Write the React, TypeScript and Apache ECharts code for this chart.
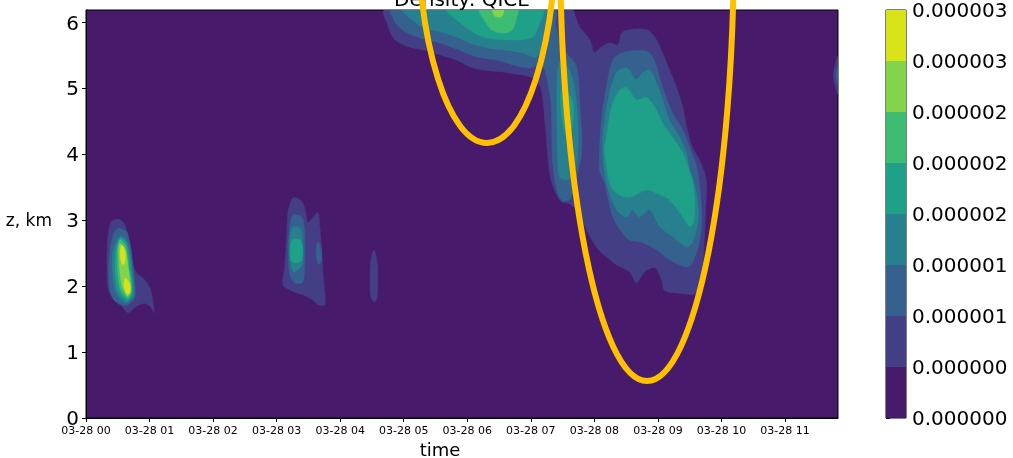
import { useEffect, useRef } from "react";
import * as echarts from "echarts";

// Axis ticks: hours since 03-28 00:00 and height in km
const hourTicks = [0, 1, 2, 3, 4, 5, 6, 7, 8, 9, 10, 11];
const heightTicks = [0, 1, 2, 3, 4, 5, 6];
const timeMaxHours = 71 / 6; // 03-28 11:50
const heightMaxKm = 6.19;

// Contour levels of QICE density and the viridis colour of each band
const levels = [0, 4e-7, 8e-7, 1.2e-6, 1.6e-6, 2.0e-6, 2.4e-6, 2.8e-6, 3.2e-6];
const bandColors = ["#481a6c", "#433e85", "#34618d", "#27808e", "#1fa088", "#3fbc73", "#84d44b", "#d8e219"];

// Contour rings as [hours, km]; ring of level k encloses density >= levels[k]
// Cell near 00:30
const cellA1 = [[0.41, 2.99], [0.52, 3.01], [0.60, 2.95], [0.66, 2.75], [0.71, 2.45], [0.78, 2.22], [0.90, 2.12], [0.99, 2.00], [1.04, 1.85], [1.07, 1.60], [1.02, 1.68], [0.93, 1.74], [0.80, 1.70], [0.66, 1.60], [0.55, 1.72], [0.44, 1.80], [0.35, 1.95], [0.33, 2.30], [0.34, 2.70], [0.37, 2.90]];
const cellA2 = [[0.50, 2.88], [0.60, 2.85], [0.65, 2.81], [0.71, 2.55], [0.74, 2.29], [0.77, 2.02], [0.77, 1.84], [0.68, 1.73], [0.57, 1.71], [0.44, 1.79], [0.38, 1.94], [0.36, 2.25], [0.38, 2.55], [0.43, 2.78]];
const cellA3 = [[0.54, 2.76], [0.65, 2.68], [0.72, 2.29], [0.75, 1.87], [0.62, 1.75], [0.46, 1.93], [0.42, 2.50]];
const cellA4 = [[0.54, 2.73], [0.64, 2.64], [0.70, 2.29], [0.73, 1.90], [0.65, 1.78], [0.49, 1.97], [0.46, 2.47]];
const cellA5 = [[0.53, 2.70], [0.62, 2.62], [0.67, 2.29], [0.72, 1.92], [0.65, 1.82], [0.53, 1.99], [0.49, 2.44]];
const cellA6 = [[0.53, 2.64], [0.61, 2.58], [0.66, 2.29], [0.70, 1.95], [0.65, 1.85], [0.56, 2.04], [0.52, 2.44]];
const cellA7a = [[0.56, 2.62], [0.61, 2.54], [0.61, 2.35], [0.57, 2.33], [0.54, 2.48]];
const cellA7b = [[0.62, 2.12], [0.69, 2.03], [0.69, 1.90], [0.65, 1.88], [0.60, 2.00]];

// Cell near 03:10
const cellB1 = [[3.26, 3.34], [3.37, 3.31], [3.44, 3.19], [3.49, 2.97], [3.57, 3.04], [3.65, 3.11], [3.68, 2.88], [3.71, 2.52], [3.73, 2.17], [3.76, 1.72], [3.65, 1.72], [3.57, 1.79], [3.41, 1.87], [3.21, 1.94], [3.10, 2.02], [3.13, 2.32], [3.16, 2.78], [3.18, 3.13]];
const cellB2 = [[3.26, 3.08], [3.40, 3.04], [3.44, 2.78], [3.44, 2.37], [3.41, 2.06], [3.29, 2.05], [3.21, 2.17], [3.18, 2.52], [3.21, 2.93]];
const cellB2b = [[3.65, 2.67], [3.70, 2.55], [3.70, 2.37], [3.65, 2.34], [3.62, 2.52]];
const cellB3 = [[3.24, 2.88], [3.37, 2.88], [3.41, 2.63], [3.40, 2.32], [3.26, 2.22], [3.21, 2.52]];
const cellB4 = [[3.24, 2.70], [3.37, 2.70], [3.41, 2.52], [3.37, 2.37], [3.24, 2.37], [3.21, 2.52]];

// Cell near 04:30
const cellC1 = [[4.53, 2.55], [4.58, 2.37], [4.59, 2.09], [4.58, 1.84], [4.54, 1.76], [4.48, 1.85], [4.47, 2.09], [4.48, 2.37]];

// Edge of a cell at the end of the period
const cellD1 = [[11.84, 5.50], [11.76, 5.20], [11.84, 4.90]];
const cellD2 = [[11.84, 5.35], [11.80, 5.20], [11.84, 5.05]];

// Upper cloud 05:00-07:30 joined to the deep cell 07:15-09:45
const cellE1 = [[4.70, 6.19], [4.75, 5.96], [4.86, 5.74], [5.09, 5.63], [5.33, 5.58], [5.57, 5.51], [5.83, 5.43], [6.04, 5.33], [6.24, 5.28], [6.56, 5.25], [6.82, 5.21], [7.03, 5.16], [7.14, 5.05], [7.19, 4.83], [7.22, 4.52], [7.26, 4.07], [7.30, 3.69], [7.37, 3.46], [7.48, 3.28], [7.61, 3.25], [7.74, 3.13], [7.88, 2.85], [8.04, 2.58], [8.21, 2.43], [8.35, 2.32], [8.55, 2.22], [8.66, 2.05], [8.79, 2.22], [8.95, 2.28], [9.06, 2.09], [9.10, 1.94], [9.26, 1.90], [9.65, 1.90], [9.70, 2.25], [9.73, 2.70], [9.75, 3.16], [9.76, 3.61], [9.65, 3.92], [9.54, 4.11], [9.45, 4.42], [9.39, 4.72], [9.29, 5.02], [9.18, 5.28], [9.07, 5.54], [8.95, 5.78], [8.82, 5.89], [8.55, 5.89], [8.43, 5.84], [8.37, 5.66], [8.24, 5.69], [8.11, 5.63], [8.00, 5.55], [7.93, 5.74], [7.77, 5.93], [7.69, 6.12], [7.66, 6.19]];
const cellE2top = [[4.81, 6.19], [4.86, 6.01], [5.02, 5.86], [5.25, 5.77], [5.57, 5.69], [5.88, 5.58], [6.15, 5.48], [6.46, 5.43], [6.71, 5.36], [6.98, 5.31], [7.14, 5.36], [7.22, 5.28], [7.31, 4.83], [7.33, 4.37], [7.34, 3.92], [7.39, 3.54], [7.48, 3.31], [7.61, 3.31], [7.69, 3.57], [7.80, 4.02], [7.77, 4.78], [7.72, 5.33], [7.56, 5.54], [7.45, 5.74], [7.39, 5.96], [7.37, 6.19]];
const cellE2 = [[8.08, 3.76], [8.11, 4.52], [8.19, 5.02], [8.29, 5.43], [8.44, 5.54], [8.71, 5.58], [8.87, 5.54], [8.98, 5.33], [9.07, 5.02], [9.23, 4.63], [9.39, 4.37], [9.50, 4.11], [9.61, 3.81], [9.65, 3.57], [9.69, 3.05], [9.65, 2.66], [9.54, 2.35], [9.45, 2.29], [9.18, 2.40], [8.98, 2.55], [8.76, 2.66], [8.55, 2.70], [8.44, 2.81], [8.29, 3.05], [8.16, 3.57]];
const cellE3top = [[4.98, 6.19], [5.09, 6.07], [5.30, 5.93], [5.57, 5.86], [5.83, 5.78], [6.04, 5.69], [6.35, 5.61], [6.62, 5.58], [6.87, 5.54], [7.09, 5.48], [7.22, 5.74], [7.26, 5.96], [7.26, 6.19]];
const cellE3col = [[7.45, 5.39], [7.61, 5.28], [7.72, 4.78], [7.74, 4.02], [7.66, 3.66], [7.56, 3.61], [7.45, 3.66], [7.42, 4.02], [7.41, 5.02]];
const cellE3 = [[8.13, 4.07], [8.16, 4.52], [8.24, 4.93], [8.35, 5.24], [8.51, 5.31], [8.66, 5.13], [8.76, 5.24], [8.87, 5.28], [8.98, 5.08], [9.07, 4.83], [9.18, 4.52], [9.34, 4.26], [9.45, 4.02], [9.50, 3.76], [9.58, 3.54], [9.64, 3.05], [9.54, 2.66], [9.45, 2.60], [9.23, 2.75], [9.03, 2.90], [8.87, 3.16], [8.71, 3.05], [8.60, 3.16], [8.51, 3.05], [8.35, 3.16], [8.19, 3.57]];
const cellE4top = [[5.68, 6.19], [5.83, 6.04], [6.04, 5.89], [6.24, 5.78], [6.56, 5.74], [6.82, 5.74], [7.03, 5.78], [7.14, 5.99], [7.19, 6.19]];
const cellE4col = [[7.50, 5.02], [7.66, 4.78], [7.64, 4.37], [7.55, 4.30], [7.47, 4.75]];
const cellE4 = [[8.16, 4.07], [8.19, 4.26], [8.27, 4.72], [8.40, 4.98], [8.51, 5.01], [8.66, 4.83], [8.82, 4.86], [8.95, 4.72], [9.07, 4.48], [9.23, 4.26], [9.39, 4.02], [9.46, 3.84], [9.54, 3.61], [9.58, 3.31], [9.56, 2.97], [9.50, 2.90], [9.39, 3.05], [9.18, 3.31], [8.98, 3.41], [8.82, 3.46], [8.55, 3.35], [8.35, 3.41], [8.24, 3.57]];
const cellE5top = [[6.19, 6.19], [6.27, 6.04], [6.38, 5.89], [6.56, 5.84], [6.71, 5.89], [6.78, 6.09], [6.79, 6.19]];
const cellE6top = [[6.40, 6.19], [6.43, 6.10], [6.54, 6.09], [6.57, 6.19]];

const contourLayers = [
  { level: 1, rings: [cellA1, cellB1, cellC1, cellD1, cellE1] },
  { level: 2, rings: [cellA2, cellB2, cellB2b, cellD2, cellE2top, cellE2] },
  { level: 3, rings: [cellA3, cellB3, cellE3top, cellE3col, cellE3] },
  { level: 4, rings: [cellA4, cellB4, cellE4top, cellE4col, cellE4] },
  { level: 5, rings: [cellA5, cellE5top] },
  { level: 6, rings: [cellA6, cellE6top] },
  { level: 7, rings: [cellA7a, cellA7b] },
];

const FONT = "DejaVu Sans";

export default function App() {
  const ref = useRef<HTMLDivElement>(null);

  useEffect(() => {
    if (!ref.current) return;
    const chart = echarts.init(ref.current, null, { renderer: "svg" });

    const rings = contourLayers.flatMap((layer) =>
      layer.rings.map((ring) => ({ level: layer.level, ring }))
    );
    const bands = levels.slice(0, -1).map((lo, i) => [0, lo, levels[i + 1], i]);

    const pad2 = (v: number) => String(Math.round(v)).padStart(2, "0");

    chart.setOption({
      animation: false,
      grid: [
        { left: 86, top: 10, width: 752, height: 408, show: true, backgroundColor: bandColors[0], borderColor: "#000", borderWidth: 1 },
        { left: 886, top: 10, width: 20, height: 408, show: true, backgroundColor: "transparent", borderColor: "#000", borderWidth: 1 },
      ],
      xAxis: [
        {
          type: "value",
          gridIndex: 0,
          min: 0,
          max: timeMaxHours,
          axisLine: { show: true, lineStyle: { color: "#000", width: 1 } },
          axisTick: { show: true, length: 4, customValues: hourTicks, lineStyle: { color: "#000", width: 1 } },
          axisLabel: {
            customValues: hourTicks,
            formatter: (v: number) => "03-28 " + pad2(v),
            fontFamily: FONT,
            fontSize: 11,
            color: "#000",
            margin: 7,
          },
          splitLine: { show: false },
        },
        { type: "value", gridIndex: 1, min: 0, max: 1, show: false },
      ],
      yAxis: [
        {
          type: "value",
          gridIndex: 0,
          min: 0,
          max: heightMaxKm,
          axisLine: { show: true, lineStyle: { color: "#000", width: 1 } },
          axisTick: { show: true, length: 4, customValues: heightTicks, lineStyle: { color: "#000", width: 1 } },
          axisLabel: {
            customValues: heightTicks,
            formatter: (v: number) => String(Math.round(v)),
            fontFamily: FONT,
            fontSize: 20,
            color: "#000",
            margin: 7,
          },
          splitLine: { show: false },
        },
        {
          type: "value",
          gridIndex: 1,
          position: "right",
          min: 0,
          max: levels[levels.length - 1],
          interval: levels[1],
          axisLine: { show: false },
          axisTick: { show: true, length: 4, lineStyle: { color: "#000", width: 1 } },
          axisLabel: {
            formatter: (v: number) => v.toFixed(6),
            fontFamily: FONT,
            fontSize: 20,
            color: "#000",
            margin: 6,
          },
          splitLine: { show: false },
        },
      ],
      series: [
        {
          type: "custom",
          coordinateSystem: "cartesian2d",
          xAxisIndex: 0,
          yAxisIndex: 0,
          clip: true,
          silent: true,
          data: rings.map((r, i) => [r.ring[0][0], r.ring[0][1], i]),
          renderItem: (_params: any, api: any) => {
            const item = rings[api.value(2)];
            const color = bandColors[item.level];
            return {
              type: "polygon",
              shape: { points: item.ring.map((p) => api.coord(p)), smooth: 0.3 },
              style: { fill: color, stroke: color, lineWidth: 0.6 },
            };
          },
        },
        {
          type: "custom",
          coordinateSystem: "cartesian2d",
          xAxisIndex: 1,
          yAxisIndex: 1,
          silent: true,
          data: bands,
          renderItem: (_params: any, api: any) => {
            const top = api.coord([0, api.value(2)]);
            const bottom = api.coord([1, api.value(1)]);
            return {
              type: "rect",
              shape: { x: top[0], y: top[1], width: bottom[0] - top[0], height: bottom[1] - top[1] },
              style: { fill: bandColors[api.value(3)] },
            };
          },
        },
      ],
      graphic: [
        {
          type: "text",
          x: 462,
          y: -1.5,
          style: { text: "Density: QICE", font: `20px "${FONT}"`, fill: "#000", align: "center", verticalAlign: "middle" },
        },
        {
          type: "text",
          x: 52,
          y: 220,
          style: { text: "z, km", font: `17px "${FONT}"`, fill: "#000", align: "right", verticalAlign: "middle" },
        },
        {
          type: "text",
          x: 440,
          y: 449,
          style: { text: "time", font: `18px "${FONT}"`, fill: "#000", align: "center", verticalAlign: "middle" },
        },
        {
          type: "ellipse",
          z: 100,
          shape: { cx: 487, cy: -74, rx: 69, ry: 217 },
          style: { fill: "none", stroke: "#ffc000", lineWidth: 6 },
        },
        {
          type: "ellipse",
          z: 100,
          shape: { cx: 647, cy: -59, rx: 87, ry: 440 },
          style: { fill: "none", stroke: "#ffc000", lineWidth: 6 },
        },
      ],
    });

    return () => chart.dispose();
  }, []);

  return <div ref={ref} style={{ position: "fixed", left: 0, top: 0, width: 1013, height: 458 }} />;
}
